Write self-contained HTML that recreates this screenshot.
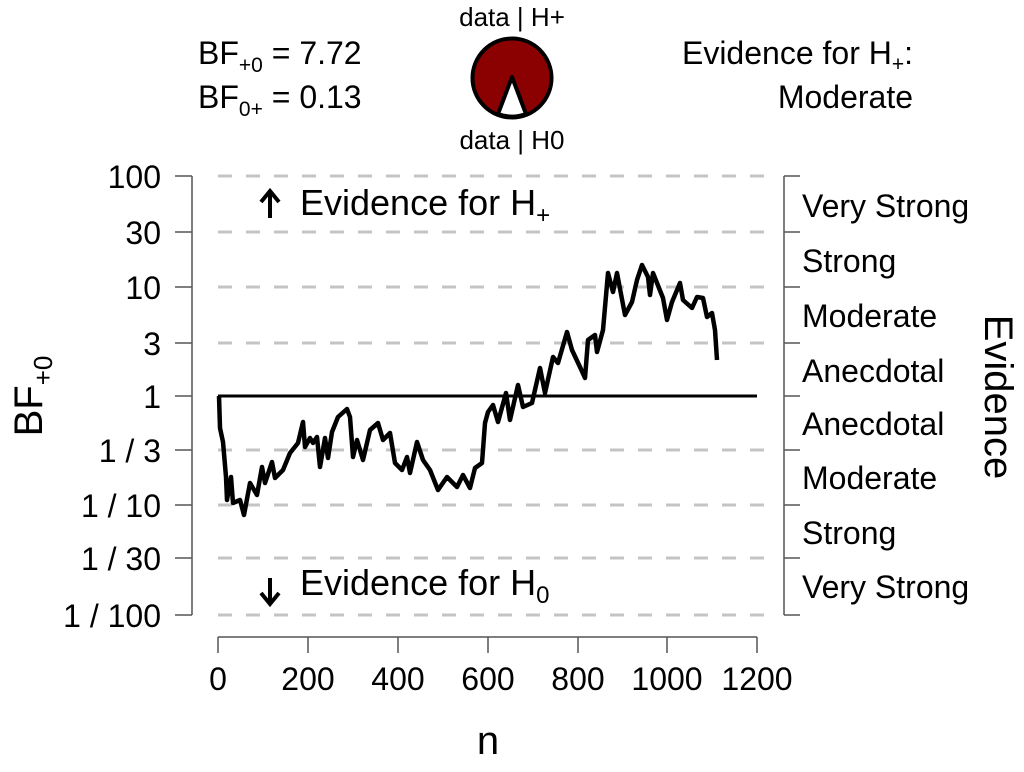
<!DOCTYPE html>
<html><head><meta charset="utf-8"><style>body{margin:0;background:#fff}svg{display:block}text{font-family:"Liberation Sans",sans-serif;fill:#000}</style></head><body>
<svg width="1024" height="772" viewBox="0 0 1024 772" xmlns="http://www.w3.org/2000/svg">
<text x="198" y="64" font-size="32">BF<tspan font-size="21" dy="8">+0</tspan><tspan dy="-8"> = 7.72</tspan></text>
<text x="198" y="108" font-size="32">BF<tspan font-size="21" dy="8">0+</tspan><tspan dy="-8"> = 0.13</tspan></text>
<text x="512" y="26" font-size="26" text-anchor="middle">data | H+</text>
<text x="512" y="149" font-size="26" text-anchor="middle">data | H0</text>
<circle cx="512" cy="78" r="39.5" fill="#8b0000" stroke="#000" stroke-width="4"/>
<path d="M512,77 L498,114 A39.5,39.5 0 0 0 526,114 Z" fill="#fff" stroke="#000" stroke-width="4" stroke-linejoin="round"/>
<text x="913" y="64" font-size="32" text-anchor="end">Evidence for H<tspan font-size="21" dy="7">+</tspan><tspan dy="-7">:</tspan></text>
<text x="913" y="108" font-size="32" text-anchor="end">Moderate</text>
<g stroke="#c4c4c4" stroke-width="3" stroke-dasharray="14,14">
<line x1="218" y1="176" x2="770" y2="176"/><line x1="218" y1="232" x2="770" y2="232"/><line x1="218" y1="287" x2="770" y2="287"/><line x1="218" y1="343" x2="770" y2="343"/><line x1="218" y1="450" x2="770" y2="450"/><line x1="218" y1="505" x2="770" y2="505"/><line x1="218" y1="558" x2="770" y2="558"/><line x1="218" y1="615" x2="770" y2="615"/>
</g>
<g stroke="#555" stroke-width="1.5" fill="none">
<path d="M192,176V615 M175,176H192 M175,232H192 M175,287H192 M175,343H192 M175,396H192 M175,450H192 M175,505H192 M175,558H192 M175,615H192"/>
<path d="M784,176V615 M784,176H800 M784,232H800 M784,287H800 M784,343H800 M784,396H800 M784,450H800 M784,505H800 M784,558H800 M784,615H800"/>
<path d="M218,637H757 M218,637V653 M308,637V653 M398,637V653 M488,637V653 M578,637V653 M667,637V653 M757,637V653"/>
</g>
<g font-size="32" text-anchor="end">
<text x="161" y="188">100</text><text x="161" y="244">30</text><text x="161" y="299">10</text><text x="161" y="355">3</text><text x="161" y="408">1</text><text x="161" y="462">1 / 3</text><text x="161" y="517">1 / 10</text><text x="161" y="570">1 / 30</text><text x="161" y="627">1 / 100</text>
</g>
<g font-size="32" text-anchor="middle">
<text x="218" y="690">0</text><text x="308" y="690">200</text><text x="398" y="690">400</text><text x="488" y="690">600</text><text x="578" y="690">800</text><text x="667" y="690">1000</text><text x="757" y="690">1200</text>
</g>
<text x="488" y="754" font-size="40" text-anchor="middle">n</text>
<text transform="translate(42,396) rotate(-90)" font-size="40" text-anchor="middle">BF<tspan font-size="26" dy="10">+0</tspan></text>
<text transform="translate(985,397) rotate(90)" font-size="40" text-anchor="middle">Evidence</text>
<g font-size="32">
<text x="802" y="217">Very Strong</text><text x="802" y="272">Strong</text><text x="802" y="327">Moderate</text><text x="802" y="382">Anecdotal</text><text x="802" y="435">Anecdotal</text><text x="802" y="489">Moderate</text><text x="802" y="544">Strong</text><text x="802" y="598">Very Strong</text>
</g>
<text x="300" y="215" font-size="36">Evidence for H<tspan font-size="24" dy="8">+</tspan></text>
<text x="300" y="595" font-size="36">Evidence for H<tspan font-size="24" dy="8">0</tspan></text>
<g stroke="#000" stroke-width="4" fill="none">
<path d="M270,218V193 M261,202L270,191L279,202"/>
<path d="M270,578V603 M261,593L270,604L279,593"/>
</g>
<line x1="218" y1="396" x2="757" y2="396" stroke="#000" stroke-width="3"/>
<polyline fill="none" stroke="#000" stroke-width="4.5" stroke-linejoin="round" points="219,396 220,428 223,442 226,477 227,500 231,477 233,503 240,500 244,515 250,483 257,495 262,467 265,483 272,462 275,478 283,470 290,453 298,443 303,422 305,447 310,438 313,443 317,437 320,467 325,438 328,458 332,432 338,417 347,409 350,417 353,457 357,440 363,460 370,430 378,423 383,440 390,433 395,463 402,470 407,457 410,473 417,442 423,460 430,470 438,490 447,477 457,487 463,475 470,488 475,468 482,463 485,423 488,412 493,405 498,422 506,393 510,420 518,385 523,407 532,403 540,368 545,393 553,357 558,363 567,332 572,350 580,367 585,378 588,340 595,335 597,352 603,330 608,273 613,292 617,273 625,315 632,302 637,280 642,265 648,277 650,295 653,273 663,298 667,320 672,302 680,283 683,300 692,308 697,297 703,298 707,317 712,313 715,330 717,360"/>
</svg>
</body></html>
